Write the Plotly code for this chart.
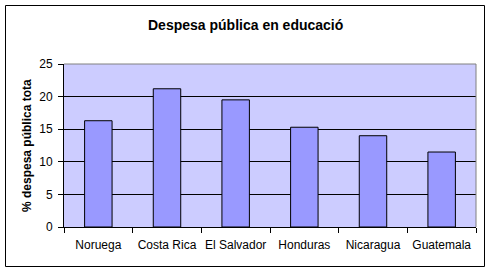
import plotly.graph_objects as go

categories = ["Noruega", "Costa Rica", "El Salvador", "Honduras", "Nicaragua", "Guatemala"]
values = [16.3, 21.2, 19.5, 15.3, 14.0, 11.5]
y_ticks = [0, 5, 10, 15, 20, 25]

W, H = 491, 272
L, R, T, B = 64, 15, 64, 45
pw = W - L - R
ph = H - T - B

def px_x(p):
    return (p - L) / pw

def px_y(p):
    return (H - B - p) / ph

fig = go.Figure(go.Bar(
    x=categories, y=values,
    marker=dict(color="#9999FF", line=dict(color="black", width=1)),
    width=0.4,
))

fig.update_layout(
    width=W, height=H,
    margin=dict(l=L, r=R, t=T, b=B, autoexpand=False),
    paper_bgcolor="white",
    plot_bgcolor="#CCCCFF",
    font=dict(family="Arial, Liberation Sans", size=12, color="black"),
    showlegend=False,
    bargap=0.6,
    xaxis=dict(
        tickson="boundaries", ticks="outside", ticklen=5, tickcolor="black",
        showline=True, linecolor="black", linewidth=1, showgrid=False,
        tickfont=dict(size=12), tickangle=0, automargin=False,
        ticklabelstandoff=7,
    ),
    yaxis=dict(
        range=[0, 25], tickvals=y_ticks, ticks="outside", ticklen=5, tickcolor="black",
        showline=True, linecolor="black", linewidth=1,
        showgrid=True, gridcolor="black", gridwidth=1, zeroline=False,
        tickfont=dict(size=12), automargin=False, ticklabelstandoff=3,
    ),
    annotations=[
        dict(text="<b>Despesa pública en educació</b>", xref="paper", yref="paper",
             x=px_x(245), y=px_y(25), showarrow=False, font=dict(size=14),
             xanchor="center", yanchor="middle"),
        dict(text="<b>% despesa pública tota</b>", xref="paper", yref="paper",
             x=px_x(27), y=px_y(146), showarrow=False, textangle=-90,
             font=dict(size=12), xanchor="center", yanchor="middle"),
    ],
    shapes=[
        dict(type="line", xref="paper", yref="paper", x0=0, x1=1, y0=1, y1=1,
             line=dict(color="#808080", width=1), layer="above"),
        dict(type="line", xref="paper", yref="paper", x0=1, x1=1, y0=0, y1=1,
             line=dict(color="#808080", width=1), layer="above"),
        dict(type="rect", xref="paper", yref="paper",
             x0=px_x(5.5), x1=px_x(484.5), y0=px_y(266.5), y1=px_y(5.5),
             line=dict(color="black", width=1), layer="above"),
    ],
)

fig.write_html("out.html")
